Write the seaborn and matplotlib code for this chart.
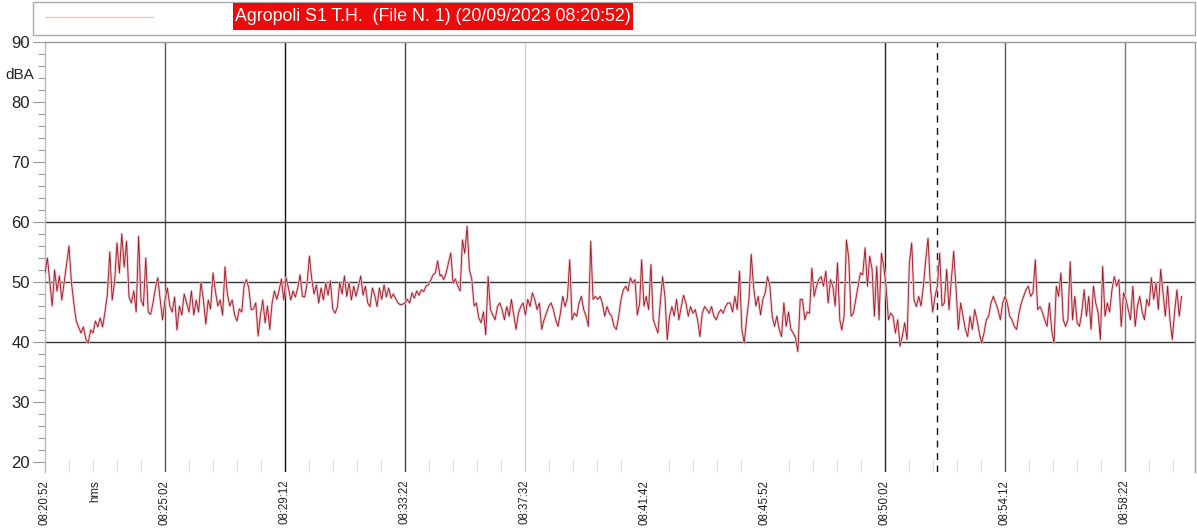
import numpy as np
import pandas as pd
import matplotlib
matplotlib.use("Agg")
import matplotlib.pyplot as plt
import seaborn as sns
from matplotlib.ticker import MultipleLocator
from matplotlib.lines import Line2D
from matplotlib.patches import Rectangle

# dBA readings, one part per stretch of ~7 minutes
leq_part1 = [51.5, 54, 50, 46, 52, 48.5, 51, 47, 50, 53,
             56, 50, 46.5, 43.5, 42.5, 41.5, 42.5, 40.5, 39.8, 42,
             41.5, 43.5, 42.5, 44, 42.5, 45, 48, 55, 47, 50,
             56.5, 51.5, 58, 52.5, 56.8, 47.5, 46.5, 48.5, 45, 57.6,
             47, 46, 54, 45, 44.6, 46.5, 49, 50.7, 47, 43.7,
             47, 49, 46, 45, 47.5, 42, 46, 44.5, 48, 46.5,
             45, 48.5, 44.5, 47, 45, 50, 47, 43, 47, 45.5,
             51.5, 48.5, 46, 47, 44.5, 52.5, 48, 46, 47, 44.5,
             43.5, 45.5]
leq_part2 = [45, 49.5, 50.4, 49, 45.4, 45.5, 46.5, 41, 44.5, 47,
             43.2, 46, 42.1, 46.5, 48.5, 47.1, 48.6, 50.5, 47, 50.7,
             49, 47, 48.5, 47.5, 49, 51.2, 47.6, 47.5, 49.8, 54.3,
             50.5, 48, 49.5, 46.5, 49, 47, 49.8, 47.8, 50.2, 45.5,
             44.8, 45.8, 50, 48, 51, 47.6, 49.9, 47, 49.3, 47.6,
             49.3, 51, 47.8, 49.3, 46.5, 45.9, 49, 47.8, 45.9, 49,
             47.1, 49.5, 47.5, 49, 47.3, 48, 47.2, 46.5, 46.2, 46.3,
             46.5, 47.1, 46.5, 48.2, 47.3, 48.5, 47.8, 48.7, 48.4, 49.3,
             49.5, 50.3, 51.2, 51.5, 53.5, 51]
leq_part3 = [51.2, 50.4, 51.5, 53.2, 54.8, 49.8, 50.5, 49.3, 48.5, 57,
             54.8, 59.3, 52, 50.5, 46, 46.5, 44, 43.2, 45, 41.2,
             50.9, 45.4, 44.5, 43.7, 45.9, 46.5, 45.4, 43.7, 45.9, 44.3,
             47.1, 44.5, 42.1, 44.8, 45.9, 46.5, 44.5, 47.1, 45.9, 48.2,
             47.1, 45.4, 46.5, 42.1, 43.7, 44.8, 45.9, 46.5, 45.4, 43.7,
             42.6, 44.8, 47.6, 45.9, 47.3, 53.7, 43.7, 44.8, 44.3, 46.5,
             47.6, 45.4, 44.3, 42.6, 56.8, 47.1, 47.6, 47.1, 47.6, 46.5,
             44.3, 45.9, 44.8, 44.3, 42.6, 42.1, 44.3, 47.1, 48.7, 49.3,
             48.5, 50.7, 49.8, 50.4, 44.5, 46.5]
leq_part4 = [53.7, 46, 47.6, 45.4, 52.9, 43.7, 42.6, 41.5, 46.5, 50.9,
             47.6, 40.4, 44.3, 45.9, 44.3, 47.1, 43.7, 45.9, 47.8, 46.5,
             44.3, 45.9, 44.8, 45.4, 43.7, 40.9, 44.8, 45.9, 45.4, 44.8,
             45.9, 44.3, 43.7, 44.8, 45.4, 44.8, 45.9, 46.5, 46.5, 45,
             47.6, 45.4, 51.8, 42.1, 39.8, 43.7, 47, 54.6, 49.3, 46,
             47.6, 44.5, 47.1, 48.2, 50.9, 49.3, 44.3, 42.6, 44.3, 42.1,
             40.9, 46.5, 42.6, 45, 42.1, 41.5, 40.7, 38.4, 47.1, 47.1,
             43.7, 45, 44.8, 52.3, 47.6, 49.3, 50.4, 50.9, 49.3, 51.8,
             46.5, 50.4, 49.3, 46, 53.2, 43.7]
leq_part5 = [42, 44.3, 57, 54, 44.3, 44.8, 47.1, 49.3, 51.5, 51.2,
             55.7, 49.3, 54.3, 52.1, 44.3, 52.6, 43.7, 54.8, 52.6, 49.3,
             43.7, 44.8, 44.3, 41.5, 43.7, 39.3, 41, 43.2, 40.4, 53.2,
             56.5, 47, 45.9, 47.6, 46, 49.3, 53.7, 57.3, 49.3, 45,
             47.6, 49.3, 54.8, 46, 46.5, 52.1, 45.4, 50.4, 55.1, 49,
             42.1, 46.5, 44.3, 42.1, 40.9, 44.3, 42.1, 45.4, 43.7, 41.5,
             39.8, 41.5, 43.7, 44.3, 46.5, 47.6, 46.5, 45.4, 43.7, 46.5,
             47.6, 46.5, 44.3, 43.7, 42.6, 42.1, 44.8, 46.5, 47.6, 48.7,
             49.3, 47.6, 48.2, 53.7, 45.4, 45.9]
leq_part6 = [45, 43.7, 42.6, 46.5, 42.1, 39.8, 49.3, 47.6, 51.5, 43.7,
             42.6, 43.7, 53.4, 43.7, 47.6, 43.2, 42.6, 45, 48.7, 44.3,
             47.6, 42.1, 49.3, 46.5, 45, 40.4, 52.6, 44.3, 46.5, 45,
             48.7, 50.9, 49.3, 50.4, 42.6, 48.2, 47.1, 45.4, 43.7, 49.3,
             42.6, 46, 47.6, 45, 43.7, 47.1, 46, 50.7, 47.1, 49.8,
             45.4, 52.1, 48.2, 44.3, 49.3, 43.7, 40.4, 45, 48.7, 44.3,
             47.6]
leq_parts = [leq_part1, leq_part2, leq_part3, leq_part4, leq_part5, leq_part6]

# seconds after 08:20:52 of the first and last reading of each part
part_spans = [(0, 405), (410, 823), (826, 1239), (1243, 1656), (1660, 2073), (2078, 2368)]

tick_sec = [0, 250, 500, 750, 1000, 1250, 1500, 1750, 2000, 2250]
tick_labels = ["08:20:52", "08:25:02", "08:29:12", "08:33:22", "08:37:32",
               "08:41:42", "08:45:52", "08:50:02", "08:54:12", "08:58:22"]
grid_sec = [250, 500, 750, 1000, 1750, 2000, 2250]
cursor_sec = 1858
level_lines = [40, 50, 60]
title = "Agropoli S1 T.H.  (File N. 1) (20/09/2023 08:20:52)"

frames = []
for part, (t0, t1) in zip(leq_parts, part_spans):
    frames.append(pd.DataFrame({"sec": np.linspace(t0, t1, len(part)), "dba": part}))
df = pd.concat(frames, ignore_index=True)

sns.set_style("white")
plt.rcParams["font.family"] = ["Liberation Sans", "DejaVu Sans"]

W, H = 1197, 528
fig = plt.figure(figsize=(W / 100, H / 100), dpi=100)
ax = fig.add_axes([45 / W, 1 - 472 / H, 1150 / W, 430 / H])

grid_colors = ["#555555", "#111111", "#444444", "#cccccc", "#222222", "#555555", "#777777"]
for s, c in zip(grid_sec, grid_colors):
    ax.axvline(s, color=c, lw=1.0, zorder=1)
ax.axvline(cursor_sec, color="#111111", lw=1.0, ls=(0, (5, 4)), zorder=1)
for lv in level_lines:
    ax.axhline(lv, color="#333333", lw=1.0, zorder=1)

# pale halo under a thin dark-red trace
sns.lineplot(data=df, x="sec", y="dba", estimator=None, sort=False,
             color="#f1c3c6", lw=1.8, ax=ax, zorder=2)
sns.lineplot(data=df, x="sec", y="dba", estimator=None, sort=False,
             color="#9a1526", lw=0.6, ax=ax, zorder=3)

ax.set_xlim(0, 2396)
ax.set_ylim(18.33, 90)
ax.set_xlabel("")
ax.set_ylabel("")

ax.set_xticks(tick_sec)
ax.set_xticklabels(tick_labels, rotation=90, fontsize=8.3, color="#222222")
ax.xaxis.set_minor_locator(MultipleLocator(50))
ax.tick_params(axis="x", which="major", length=0, pad=5.5)
ax.tick_params(axis="x", which="minor", direction="in", length=9, width=0.8,
               color="#dddddd", bottom=True)

ax.set_yticks(range(20, 91, 10))
ax.yaxis.set_minor_locator(MultipleLocator(2))
ax.tick_params(axis="y", which="major", length=9, width=0.8, color="#999999",
               labelsize=12, labelcolor="#222222", pad=2, left=True)
ax.tick_params(axis="y", which="minor", length=5, width=0.8, color="#999999", left=True)

ax.spines["bottom"].set_visible(False)
ax.spines["left"].set_color("#bbbbbb")
ax.spines["top"].set_color("#999999")
ax.spines["right"].set_color("#999999")
for sp in ax.spines.values():
    sp.set_linewidth(1.0)

fig.text(20 / W, 1 - 75 / H, "dBA", fontsize=11, color="#222222", ha="center", va="center")
fig.text(95 / W, 1 - 480 / H, "hms", fontsize=8.3, color="#222222", rotation=90,
         ha="center", va="top")

# legend strip on top
fig.patches.append(Rectangle((33 / W, 1 - 35 / H), 1162 / W, 33 / H, transform=fig.transFigure,
                             facecolor="white", edgecolor="#aaaaaa", lw=1.0))
fig.lines.append(Line2D([45 / W, 153 / W], [1 - 17 / H, 1 - 17 / H], transform=fig.transFigure,
                        color="#f2c4c4", lw=1.0))
fig.patches.append(Rectangle((233 / W, 1 - 30 / H), 400 / W, 27 / H, transform=fig.transFigure,
                             facecolor="#ee0a0a", edgecolor="none"))
fig.text(433 / W, 1 - 16.5 / H, title, fontsize=12.8, color="white", ha="center", va="center")

fig.savefig("out.png", dpi=100)
